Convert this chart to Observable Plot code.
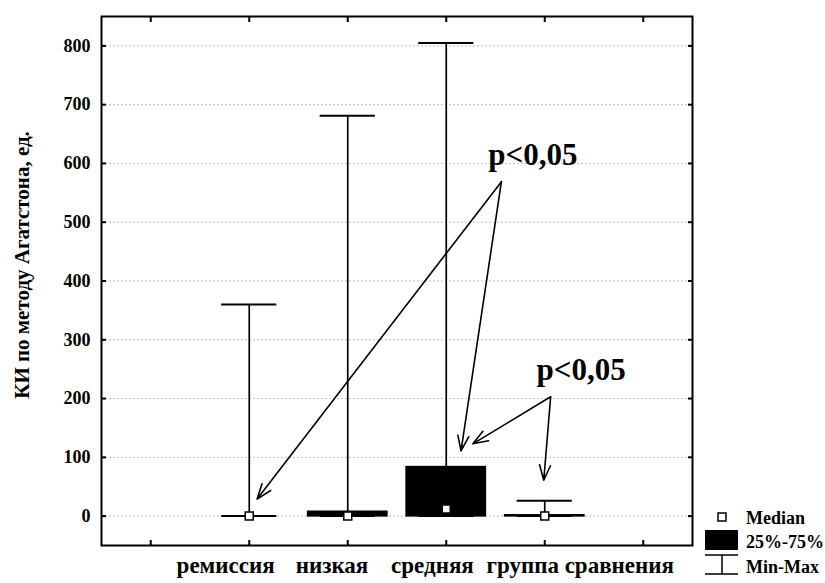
<!DOCTYPE html>
<html><head><meta charset="utf-8">
<script src="https://cdn.jsdelivr.net/npm/d3@7"></script>
<script src="https://cdn.jsdelivr.net/npm/@observablehq/plot@0.6"></script>
<style>body{margin:0;background:#fff} #chart{position:relative;width:825px;height:583px}</style>
</head><body><div id="chart"></div><script>
// ---- data ----
const categories = ["ремиссия", "низкая", "средняя", "группа сравнения"];
const positions = [1, 2, 3, 4];
const minValues = [0, 0, 0, 0];
const maxValues = [360, 681, 805, 26];
const q1Values = [0, 0, 0, 0];
const q3Values = [0, 7, 83, 1];
const medianValues = [0, 0, 12, 0];
const labelPositions = [0.76, 1.84, 2.86, 4.36];
const yTicks = [0, 100, 200, 300, 400, 500, 600, 700, 800];
const xTicks = [0, 1, 2, 3, 4, 5];
const yLabel = "КИ по методу Агатстона, ед.";
const pTexts = ["p<0,05", "p<0,05"];
const pX = [3.88, 4.37];
const pY = [615, 249];
const arrowX1 = [3.56, 3.56, 4.06, 4.06];
const arrowY1 = [569, 569, 203, 203];
const arrowX2 = [1.08, 3.15, 3.27, 3.99];
const arrowY2 = [29, 111, 123, 61];
const legendLabels = ["Median", "25%-75%", "Min-Max"];

const data = categories.map((c, i) => ({
  category: c, pos: positions[i], min: minValues[i], max: maxValues[i],
  q1: q1Values[i], q3: q3Values[i], median: medianValues[i], labelPos: labelPositions[i]
}));
const pData = pTexts.map((t, i) => ({text: t, x: pX[i], y: pY[i]}));
const arrows = arrowX1.map((x1, i) => ({x1, y1: arrowY1[i], x2: arrowX2[i], y2: arrowY2[i]}));

const font = "'Liberation Serif', 'Times New Roman', serif";
const boxHalf = 0.4, capHalf = 0.28;

const plot = Plot.plot({
  width: 825, height: 583,
  marginLeft: 101, marginRight: 133, marginTop: 16, marginBottom: 38,
  style: {fontFamily: font, fontWeight: "bold", background: "white", color: "black"},
  x: {domain: [-0.5, 5.5]},
  y: {domain: [-50, 850]},
  marks: [
    Plot.gridY(yTicks, {stroke: "#bdbdbd", strokeOpacity: 1, strokeDasharray: "2,2", strokeWidth: 1}),
    Plot.axisY(yTicks, {anchor: "left", tickSize: 0, tickPadding: 11, fontSize: 18, fontWeight: "bold", label: null}),
    Plot.axisY(yTicks, {anchor: "left", tickSize: -5, tickFormat: () => "", label: null, strokeWidth: 2}),
    Plot.axisY(yTicks, {anchor: "right", tickSize: -5, tickFormat: () => "", label: null, strokeWidth: 2}),
    Plot.axisX(xTicks, {anchor: "bottom", tickSize: -5, tickFormat: () => "", label: null, strokeWidth: 2}),
    Plot.axisX(xTicks, {anchor: "top", tickSize: -5, tickFormat: () => "", label: null, strokeWidth: 2}),
    Plot.ruleX(data, {x: "pos", y1: "min", y2: "max", stroke: "black", strokeWidth: 1.7}),
    Plot.ruleY(data, {y: "max", x1: d => d.pos - capHalf, x2: d => d.pos + capHalf, stroke: "black", strokeWidth: 2}),
    Plot.ruleY(data, {y: "min", x1: d => d.pos - capHalf, x2: d => d.pos + capHalf, stroke: "black", strokeWidth: 2}),
    Plot.rect(data, {x1: d => d.pos - boxHalf, x2: d => d.pos + boxHalf, y1: "q1", y2: "q3", fill: "black", stroke: "black", strokeWidth: 2}),
    Plot.dot(data, {x: "pos", y: "median", symbol: "square", r: 4.5, fill: "white", stroke: "black", strokeWidth: 1.5}),
    Plot.arrow(arrows, {x1: "x1", y1: "y1", x2: "x2", y2: "y2", stroke: "black", strokeWidth: 1.6, headLength: 15, headAngle: 40}),
    Plot.text(pData, {x: "x", y: "y", text: "text", fontSize: 31, fontWeight: "bold", fill: "black"}),
    Plot.text(data, {x: "labelPos", text: "category", frameAnchor: "bottom", dy: 27, fontSize: 23, fontWeight: "bold", fill: "black"}),
    Plot.text([yLabel], {text: d => d, frameAnchor: "left", textAnchor: "middle", rotate: -90, dx: -79, dy: -16, fontSize: 21, fontWeight: "bold", fill: "black"}),
    Plot.frame({stroke: "black", strokeWidth: 2})
  ]
});
document.getElementById("chart").appendChild(plot);

// legend
const svg = d3.select(plot);
const lg = svg.append("g").attr("font-family", font).attr("font-weight", "bold").attr("font-size", 18).attr("text-anchor", "start");
lg.append("rect").attr("x", 718).attr("y", 513).attr("width", 8).attr("height", 8).attr("fill", "white").attr("stroke", "black").attr("stroke-width", 1.5);
lg.append("rect").attr("x", 705).attr("y", 530).attr("width", 33).attr("height", 20).attr("fill", "black");
lg.append("path").attr("d", "M705,555H738M705,574H738M722,555V574").attr("stroke", "black").attr("stroke-width", 1.5).attr("fill", "none");
[518, 542, 567].forEach((y, i) => {
  lg.append("text").attr("x", 746).attr("y", y).attr("dy", "0.35em").attr("fill", "black").attr("text-anchor", "start").text(legendLabels[i]);
});
</script></body></html>
